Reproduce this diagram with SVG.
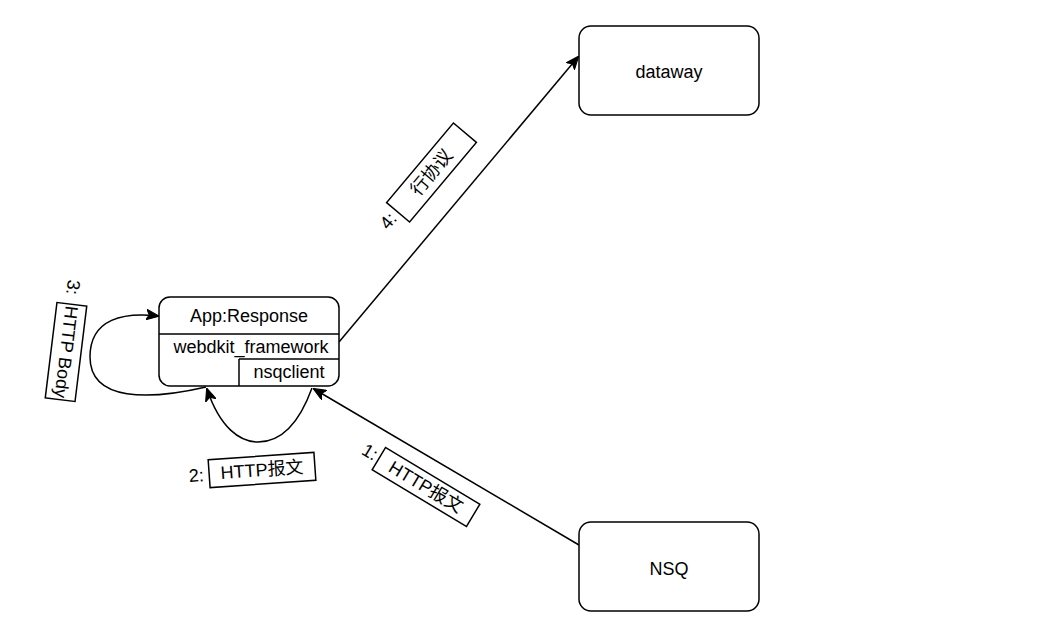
<svg xmlns="http://www.w3.org/2000/svg" width="1044" height="639" viewBox="0 0 1044 639">
<style>
.box{fill:#fff;stroke:#000;stroke-width:1.5}
.ln{fill:none;stroke:#000;stroke-width:1.5}
.t{font-family:"Liberation Sans",Arial,"Noto Sans CJK SC",sans-serif;font-size:18px;fill:#000;text-anchor:middle;dominant-baseline:central}
</style>
<defs>
<marker id="arr" viewBox="0 0 12 10" refX="11" refY="5" markerWidth="13" markerHeight="11" markerUnits="userSpaceOnUse" orient="auto">
<path d="M0,0 L12,5 L0,10 L3,5 z" fill="#000" stroke="#000" stroke-width="1"/>
</marker>
</defs>
<rect width="1044" height="639" fill="#fff"/>
<g id="connectors">
<path class="ln" d="M579,545 L314,389" marker-end="url(#arr)"/>
<path class="ln" d="M339,342 L578,57" marker-end="url(#arr)"/>
<path class="ln" d="M312,388 C296,432 276,442 258,442 C240,442 220,428 207,389" marker-end="url(#arr)"/>
<path class="ln" d="M206,387 C150,400 90,402 90,357 C90,318 125,312 158,316" marker-end="url(#arr)"/>
</g>
<g id="app">
<rect class="box" x="159" y="297" width="180" height="89" rx="11"/>
<line class="ln" x1="159" y1="334" x2="339" y2="334"/>
<line class="ln" x1="239" y1="359" x2="339" y2="359"/>
<line class="ln" x1="239" y1="359" x2="239" y2="386"/>
<text class="t" x="249" y="316">App:Response</text>
<text class="t" x="251" y="347">webdkit_framework</text>
<text class="t" x="289" y="372">nsqclient</text>
</g>
<g id="dataway">
<rect class="box" x="579" y="26" width="180" height="89" rx="12"/>
<text class="t" x="669" y="72">dataway</text>
</g>
<g id="nsq">
<rect class="box" x="579" y="522" width="180" height="89" rx="12"/>
<text class="t" x="669" y="569">NSQ</text>
</g>
<g id="label1" transform="translate(426,487) rotate(31)">
<rect class="box" x="-55" y="-13" width="110" height="26"/>
<text class="t" x="0" y="0">HTTP报文</text>
<text class="t" x="-66" y="-1">1:</text>
</g>
<g id="label2" transform="translate(262,470) rotate(-4)">
<rect class="box" x="-53" y="-14" width="106" height="28"/>
<text class="t" x="0" y="0">HTTP报文</text>
<text class="t" x="-66" y="1">2:</text>
</g>
<g id="label3" transform="translate(66,352) rotate(97)">
<rect class="box" x="-48" y="-15" width="96" height="30"/>
<text class="t" x="0" y="0">HTTP Body</text>
<text class="t" x="-65" y="1">3:</text>
</g>
<g id="label4" transform="translate(431.5,172.5) rotate(-50)">
<rect class="box" x="-52" y="-15" width="104" height="30"/>
<text class="t" x="0" y="0">行协议</text>
<text class="t" x="-65" y="-2">4:</text>
</g>
</svg>
